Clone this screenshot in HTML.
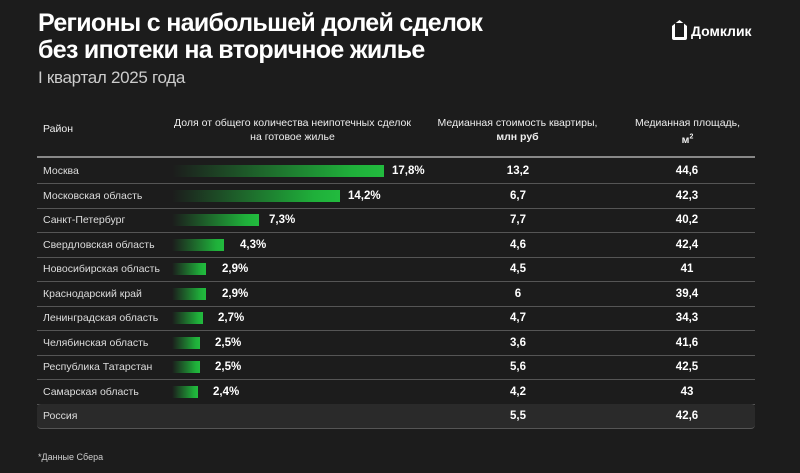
<!DOCTYPE html>
<html><head><meta charset="utf-8"><style>
body{margin:0;width:800px;height:473px;background:#1c1c1c;font-family:"Liberation Sans",sans-serif;color:#fff;position:relative;overflow:hidden}
.a{position:absolute}
h1{position:absolute;left:38px;top:10px;margin:0;font-size:25px;line-height:27px;font-weight:bold;letter-spacing:-0.7px}
.sub{left:38px;top:68px;font-size:17px;color:#ccc;letter-spacing:-0.3px}
.hd{font-size:10.5px;color:#eee;text-align:center;line-height:14px}
.row{position:absolute;left:37px;width:718px;height:24px;border-bottom:1.5px solid #555}
.nm{position:absolute;left:6px;top:6px;font-size:10.5px;color:#ddd}
.bar{position:absolute;top:6px;height:12px;left:135px;background:linear-gradient(90deg,rgba(30,160,50,0),#1fb03a 85%,#22bb3e)}
.pc{position:absolute;top:6px;font-size:11.5px;font-weight:bold}
.v1,.v2{position:absolute;top:6px;font-size:11.5px;font-weight:bold;width:80px;text-align:center}
.v1{left:441px}.v2{left:610px}
</style></head><body>
<h1>Регионы с наибольшей долей сделок<br>без ипотеки на вторичное жилье</h1>
<div class="a sub">I квартал 2025 года</div>
<div class="a" style="left:672px;top:20px;width:15px;height:20px;border:3px solid #fff;border-radius:2px;box-sizing:border-box;clip-path:polygon(0 30%,50% 0,100% 30%,100% 100%,0 100%)"></div>
<div class="a" style="left:691px;top:23px;font-size:14px;font-weight:bold">Домклик</div>
<div class="a hd" style="left:43px;top:122px;text-align:left">Район</div>
<div class="a hd" style="left:160px;top:116px;width:265px">Доля от общего количества неипотечных сделок<br>на готовое жилье</div>
<div class="a hd" style="left:425px;top:116px;width:185px">Медианная стоимость квартиры,<br><b>млн руб</b></div>
<div class="a hd" style="left:610px;top:116px;width:155px">Медианная площадь,<br><b>м<sup style="font-size:7px">2</sup></b></div>
<div class="a" style="left:37px;top:156px;width:718px;height:2px;background:#888"></div>
<div class="row" style="top:159px"><div class="nm">Москва</div><div class="bar" style="width:212px"></div><div class="pc" style="left:355px">17,8%</div><div class="v1">13,2</div><div class="v2">44,6</div></div>
<div class="row" style="top:184px"><div class="nm">Московская область</div><div class="bar" style="width:168px"></div><div class="pc" style="left:311px">14,2%</div><div class="v1">6,7</div><div class="v2">42,3</div></div>
<div class="row" style="top:208px"><div class="nm">Санкт-Петербург</div><div class="bar" style="width:87px"></div><div class="pc" style="left:232px">7,3%</div><div class="v1">7,7</div><div class="v2">40,2</div></div>
<div class="row" style="top:233px"><div class="nm">Свердловская область</div><div class="bar" style="width:52px"></div><div class="pc" style="left:203px">4,3%</div><div class="v1">4,6</div><div class="v2">42,4</div></div>
<div class="row" style="top:257px"><div class="nm">Новосибирская область</div><div class="bar" style="width:34px"></div><div class="pc" style="left:185px">2,9%</div><div class="v1">4,5</div><div class="v2">41</div></div>
<div class="row" style="top:282px"><div class="nm">Краснодарский край</div><div class="bar" style="width:34px"></div><div class="pc" style="left:185px">2,9%</div><div class="v1">6</div><div class="v2">39,4</div></div>
<div class="row" style="top:306px"><div class="nm">Ленинградская область</div><div class="bar" style="width:31px"></div><div class="pc" style="left:181px">2,7%</div><div class="v1">4,7</div><div class="v2">34,3</div></div>
<div class="row" style="top:331px"><div class="nm">Челябинская область</div><div class="bar" style="width:28px"></div><div class="pc" style="left:178px">2,5%</div><div class="v1">3,6</div><div class="v2">41,6</div></div>
<div class="row" style="top:355px"><div class="nm">Республика Татарстан</div><div class="bar" style="width:28px"></div><div class="pc" style="left:178px">2,5%</div><div class="v1">5,6</div><div class="v2">42,5</div></div>
<div class="row" style="top:380px"><div class="nm">Самарская область</div><div class="bar" style="width:26px"></div><div class="pc" style="left:176px">2,4%</div><div class="v1">4,2</div><div class="v2">43</div></div>
<div class="row" style="top:404px;background:#2a2a2a;border-radius:4px"><div class="nm">Россия</div><div class="v1">5,5</div><div class="v2">42,6</div></div>
<div class="a" style="left:38px;top:452px;font-size:9px;color:#ccc">*Данные Сбера</div>
</body></html>
